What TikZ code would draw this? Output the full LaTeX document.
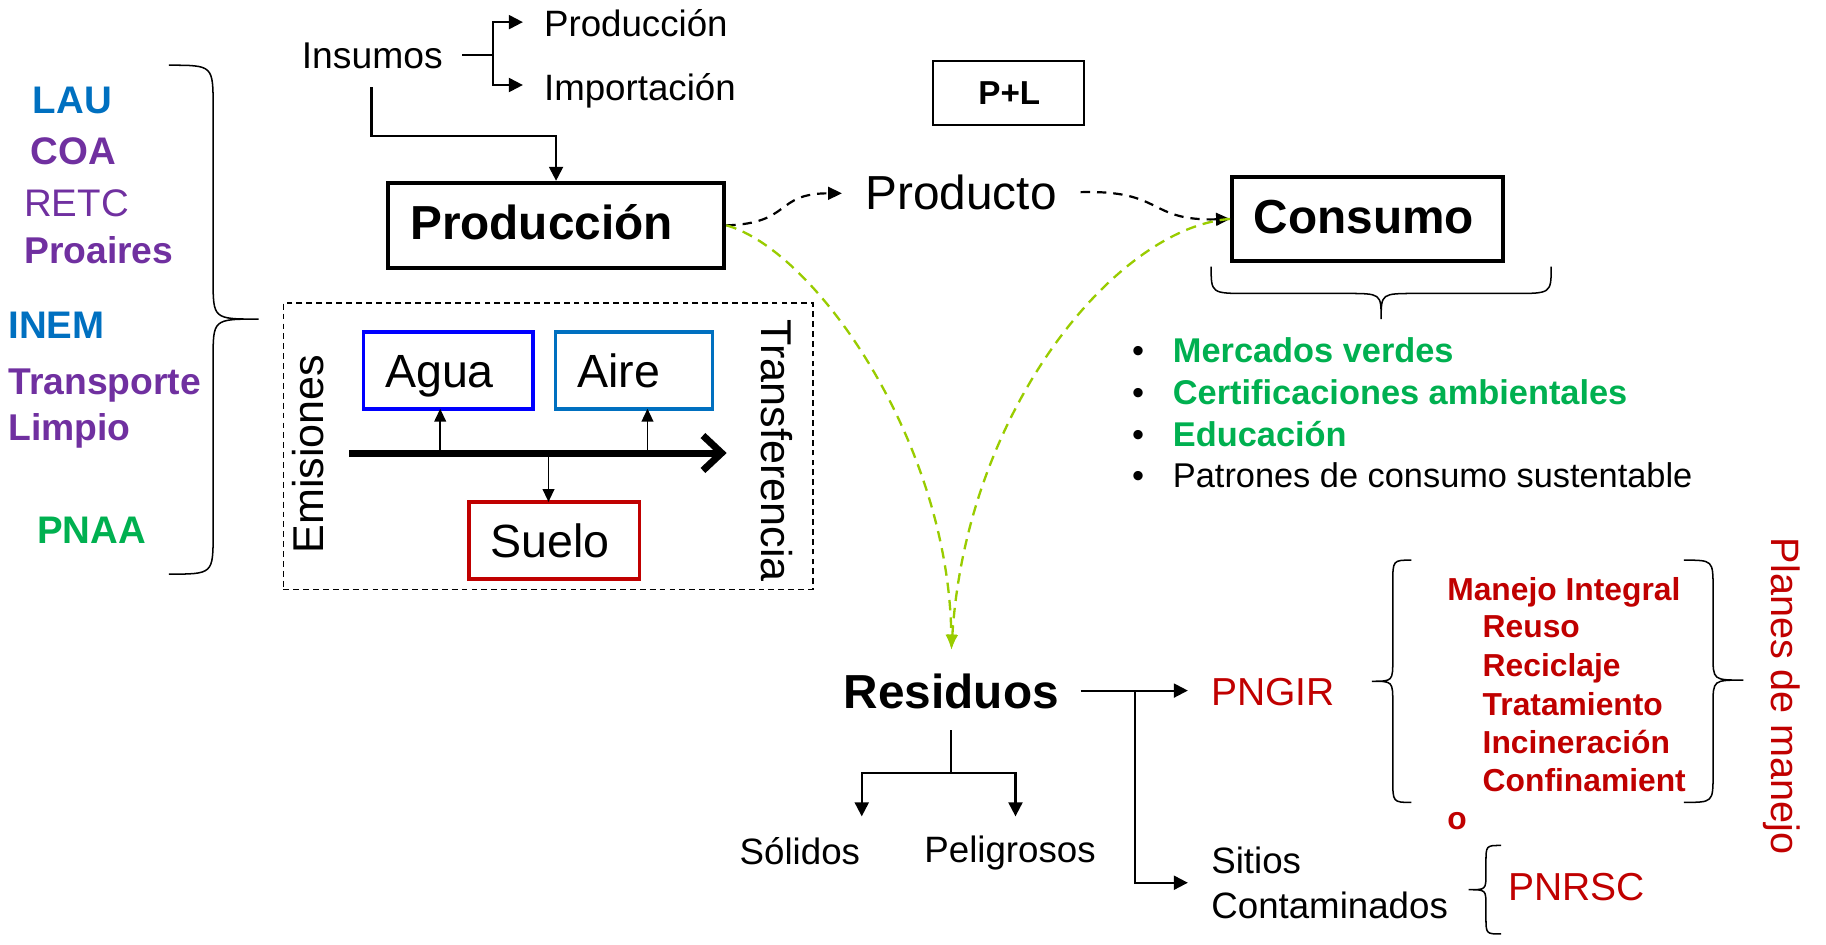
\documentclass[tikz,border=0pt]{standalone}
\usepackage{fontspec}
\setmainfont{Liberation Sans}
\usetikzlibrary{arrows.meta}
\definecolor{cblue}{RGB}{0,112,192}
\definecolor{cpurple}{RGB}{112,48,160}
\definecolor{cgreen}{RGB}{0,176,80}
\definecolor{cred}{RGB}{192,0,0}
\definecolor{clime}{RGB}{153,204,0}
\definecolor{pureblue}{RGB}{0,0,255}
\newcommand{\fsz}[1]{\fontsize{#1}{#1}\selectfont}
\begin{document}
\begin{tikzpicture}[x=1pt,y=-1pt,
  t/.style={inner sep=0pt,anchor=base west},
  conn/.style={line width=1.8pt,-{Triangle[length=12pt,width=12pt]}},
  smarrow/.style={line width=1.5pt,-{Triangle[length=11pt,width=10pt]}},
  plain/.style={line width=1.8pt},
  bracestyle/.style={line width=1.3pt},
  bigbox/.style={draw,line width=3.5pt,inner sep=0pt},
  colbox/.style={draw,line width=3pt,inner sep=0pt,minimum height=66pt},
  blkdash/.style={line width=1.9pt,dash pattern=on 8pt off 6pt,-{Triangle[length=12pt,width=11pt]}},
  grndash/.style={line width=2pt,clime,dash pattern=on 9pt off 6pt,-{Latex[length=13pt,width=10pt]}},
  lbl/.style={t,font=\fsz{33}\bfseries},
  bul/.style={t,font=\fsz{29.5}},
  mlist/.style={t,font=\fsz{27.3}\bfseries,text=cred}]
\useasboundingbox (0,0) rectangle (1568,811);

% ---------- left labels ----------
\node[lbl,text=cblue] (lau) at (28,97.5) {LAU};
\node[lbl,text=cpurple] (coa) at (26,141) {COA};
\node[t,font=\fsz{33},text=cpurple] (retc) at (20.6,186) {RETC};
\node[lbl,font=\fsz{32}\bfseries,text=cpurple] (proa) at (20.6,226) {Proaires};
\node[lbl,text=cblue] (inem) at (7,290.4) {INEM};
\node[lbl,font=\fsz{32}\bfseries,text=cpurple] (transp) at (7,339) {Transporte};
\node[lbl,font=\fsz{32}\bfseries,text=cpurple] (limp) at (7,378) {Limpio};
\node[lbl,text=cgreen] (pnaa) at (31.6,467) {PNAA};

% big left brace
\draw[bracestyle] (145,56) .. controls (183,56) .. (183,92) -- (183,240)
  .. controls (183,274) .. (222,274) .. controls (183,274) .. (183,308)
  -- (183,458) .. controls (183,493) .. (145,493);

% ---------- Insumos ----------
\node[t,font=\fsz{32}] (ins) at (259,58.5) {Insumos};
\node[t,font=\fsz{31.5}] (prodtop) at (467,31.5) {Producción};
\node[t,font=\fsz{31.5}] (imp) at (467,86.5) {Importación};
\coordinate (iS) at (397,47);
\coordinate (iJ) at (423,47);
\coordinate (iP) at (449,19);
\coordinate (iI) at (449,73);
\draw[plain] (iS) -- (iJ);
\draw[conn] (iJ) |- (iP);
\draw[conn] (iJ) |- (iI);
\coordinate (iD) at (319,75);
\coordinate (iK) at (319,117);

% ---------- Producción box ----------
\node[bigbox,minimum width=289pt,minimum height=73pt] (prodbox) at (477.5,193.5) {};
\node[t,font=\fsz{41}\bfseries] (prodtxt) at (352,206) {Producción};
\draw[conn] (iD) -- (iK) -| (prodbox.north);

% ---------- P+L ----------
\node[draw,line width=1.5pt,minimum width=130pt,minimum height=55pt,inner sep=0pt] (pl) at (866,80) {};
\node[t,font=\fsz{28.5}\bfseries] (pltxt) at (840,90) {P+L};

% ---------- Producto / Consumo ----------
\node[t,font=\fsz{41}] (producto) at (743,180) {Producto};
\coordinate (prodIn) at (723,166);
\coordinate (prodOut) at (928,165);
\node[bigbox,minimum width=233pt,minimum height=72pt] (consbox) at (1174.5,188) {};
\node[t,font=\fsz{41}\bfseries] (constxt) at (1076.5,200.4) {Consumo};

\draw[blkdash] (prodbox.east) .. controls (680,192) and (665,166) .. (prodIn);
\draw[blkdash] (prodOut) .. controls (1000,163) and (985,190) .. (consbox.west);

% Consumo brace
\draw[bracestyle] (1040,229) .. controls (1040,252) .. (1072,252) -- (1156,252)
  .. controls (1186,252) .. (1186,274) .. controls (1186,252) .. (1216,252)
  -- (1300,252) .. controls (1332,252) .. (1332,229);

% bullets
\node[bul] (b1) at (972,311) {•};
\node[bul,font=\fsz{29.5}\bfseries,text=cgreen] (m1) at (1007,311) {Mercados verdes};
\node[bul] (b2) at (972,347) {•};
\node[bul,font=\fsz{29.5}\bfseries,text=cgreen] (m2) at (1007,347) {Certificaciones ambientales};
\node[bul] (b3) at (972,383.6) {•};
\node[bul,font=\fsz{29.5}\bfseries,text=cgreen] (m3) at (1007,383.6) {Educación};
\node[bul] (b4) at (972,418.3) {•};
\node[bul] (m4) at (1007,418.3) {Patrones de consumo sustentable};

% ---------- Emissions box ----------
\node[draw,line width=1.3pt,dash pattern=on 5pt off 3.5pt,minimum width=454.6pt,minimum height=246pt,inner sep=0pt] (emibox) at (470.7,383) {};
\node[colbox,draw=pureblue,minimum width=145.5pt] (agua) at (384.75,318) {};
\node[colbox,draw=cblue,minimum width=135pt] (aire) at (544.5,318) {};
\node[colbox,draw=cred,minimum width=146.4pt] (suelo) at (475.8,464) {};
\node[t,font=\fsz{40}] (aguatxt) at (330.5,333) {Agua};
\node[t,font=\fsz{40}] (airetxt) at (495.7,333) {Aire};
\node[t,font=\fsz{40}] (suelotxt) at (421,479) {Suelo};
\node[rotate=90,anchor=base,inner sep=0pt,font=\fsz{37}] (emis) at (278,390) {Emisiones};
\node[rotate=-90,anchor=base,inner sep=0pt,font=\fsz{37}] (transf) at (654,387) {Transferencia};
\coordinate (ea) at (300,389);
\coordinate (eb) at (624,389);
\draw[line width=6pt,-{Straight Barb[length=16pt,width=30pt]}] (ea) -- (eb);
\coordinate (a1) at (378,389);
\coordinate (a1e) at (378,351);
\coordinate (a2) at (556,389);
\coordinate (a2e) at (556,351);
\coordinate (a3) at (471,389);
\coordinate (a3e) at (471,431);
\draw[smarrow] (a1) -- (a1e);
\draw[smarrow] (a2) -- (a2e);
\draw[smarrow] (a3) -- (a3e);

% ---------- Residuos ----------
\node[t,font=\fsz{41}\bfseries] (res) at (724.4,608) {Residuos};
\coordinate (resTop) at (817,558);
\draw[grndash] (prodbox.east) .. controls (700,215) and (815,380) .. (resTop);
\draw[grndash] (consbox.west) .. controls (960,195) and (830,350) .. (resTop);

\coordinate (resR) at (928,593);
\coordinate (rJ) at (975,593);
\coordinate (pngIn) at (1020,593);
\coordinate (sitIn) at (1020,758);
\draw[conn] (resR) -- (pngIn);
\draw[conn] (rJ) |- (sitIn);

\coordinate (resB) at (817,627);
\coordinate (dJ) at (817,664);
\coordinate (solT) at (740,701);
\coordinate (pelT) at (872,701);
\draw[plain] (resB) -- (dJ);
\draw[conn] (dJ) -| (solT);
\draw[conn] (dJ) -| (pelT);

\node[t,font=\fsz{31.5}] (sol) at (635,742) {Sólidos};
\node[t,font=\fsz{31.5}] (pel) at (793.6,741) {Peligrosos};
\node[t,font=\fsz{31.5}] (sit) at (1040,749.8) {Sitios};
\node[t,font=\fsz{31.5}] (cont) at (1040,788.5) {Contaminados};
\node[t,font=\fsz{33.5},text=cred] (pngir) at (1040,606) {PNGIR};
\node[t,font=\fsz{33.5},text=cred] (pnrsc) at (1295,773) {PNRSC};

% management list
\node[mlist] (mi) at (1242.6,515.8) {Manejo Integral};
\node[mlist] (reu) at (1273,547) {Reuso};
\node[mlist] (rec) at (1273,580.5) {Reciclaje};
\node[mlist] (tra) at (1273,614) {Tratamiento};
\node[mlist] (inc) at (1273,646.7) {Incineración};
\node[mlist] (conf) at (1273,679.8) {Confinamient};
\node[mlist] (oo) at (1242.6,712) {o};

% braces on the right
\draw[bracestyle] (1212,481) .. controls (1196,481) .. (1196,501) -- (1196,566)
  .. controls (1196,585) .. (1178,585) .. controls (1196,585) .. (1196,604)
  -- (1196,669) .. controls (1196,689) .. (1212,689);
\draw[bracestyle] (1446,481) .. controls (1471,481) .. (1471,505) -- (1471,563)
  .. controls (1471,584) .. (1497,584) .. controls (1471,584) .. (1471,605)
  -- (1471,665) .. controls (1471,689) .. (1446,689);
\draw[bracestyle] (1289,726) .. controls (1276,726) .. (1276,741) -- (1276,750)
  .. controls (1276,764) .. (1261,764) .. controls (1276,764) .. (1276,778)
  -- (1276,787) .. controls (1276,802) .. (1289,802);

\node[rotate=-90,anchor=base,inner sep=0pt,font=\fsz{34},text=cred] (planes) at (1521,598) {Planes de manejo};
\end{tikzpicture}
\end{document}
